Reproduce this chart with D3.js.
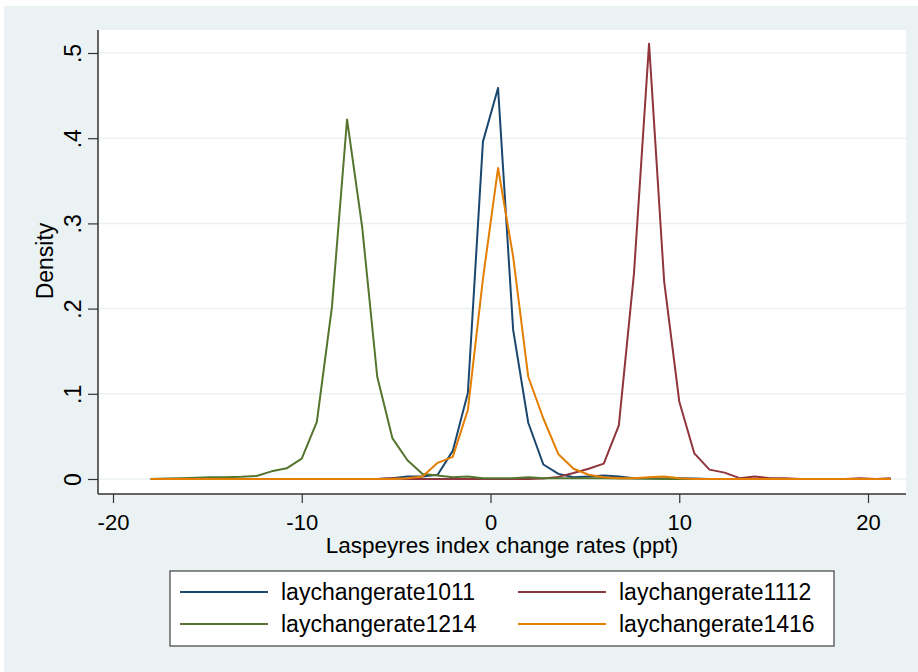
<!DOCTYPE html>
<meta http-equiv="content-type" content="text/html; charset=UTF8">
<html>
<head>
	<title>Laspeyres density</title>
	<script type="text/javascript" src="https://cdn.jsdelivr.net/npm/d3@7/dist/d3.min.js"></script>
	<style type="text/css">
		body, html {
			padding: 0;
			margin: 0;
			background: #ffffff;
		}
		svg text {
			font-family: "Liberation Sans", Arial, sans-serif;
			font-size: 23px;
			fill: #000;
		}
	</style>
</head>
<body>
<svg id="Chart" width="918" height="672"></svg>

<script type="text/javascript">

	// evaluation points of the density curves (ppt)
	var xPoints = [
		-18.0, -17.2, -16.4, -15.6, -14.8, -14.0, -13.2, -12.4, -11.6, -10.8,
		-10.0, -9.2, -8.4, -7.6, -6.8, -6.0, -5.2, -4.4, -3.6, -2.8,
		-2.0, -1.2, -0.4, 0.4, 1.2, 2.0, 2.8, 3.6, 4.4, 5.2,
		6.0, 6.8, 7.6, 8.4, 9.2, 10.0, 10.8, 11.6, 12.4, 13.2,
		14.0, 14.8, 15.6, 16.4, 17.2, 18.0, 18.8, 19.6, 20.4, 21.2
	];

	var seriesNames = ["laychangerate1011", "laychangerate1112", "laychangerate1214", "laychangerate1416"];

	var rate1011 = [
		0, 0, 0, 0, 0, 0, 0, 0, 0, 0,
		0, 0, 0, 0, 0, 0, 0.001, 0.003, 0.003, 0.005,
		0.033, 0.101, 0.396, 0.459, 0.175, 0.066, 0.017, 0.006, 0.002, 0.003,
		0.004, 0.003, 0.001, 0.0005, 0.0005, 0.001, 0.0005, 0, 0, 0,
		0, 0, 0, 0, 0, 0, 0, 0, 0, 0
	];

	var rate1112 = [
		0, 0, 0, 0, 0, 0, 0, 0, 0, 0,
		0, 0, 0, 0, 0, 0, 0.001, 0, 0, 0,
		0, 0, 0, 0, 0, 0, 0.0005, 0.0025, 0.007, 0.012,
		0.018, 0.063, 0.241, 0.511, 0.232, 0.091, 0.030, 0.011, 0.0075, 0.001,
		0.003, 0.001, 0.001, 0, 0, 0, 0, 0.001, 0, 0.001
	];

	var rate1214 = [
		0, 0.0005, 0.001, 0.0015, 0.002, 0.002, 0.0025, 0.0035, 0.009, 0.0125,
		0.024, 0.067, 0.202, 0.422, 0.296, 0.120, 0.048, 0.022, 0.006, 0.004,
		0.002, 0.003, 0.001, 0.001, 0.001, 0.002, 0.001, 0.001, 0.001, 0.001,
		0.001, 0.0005, 0.0005, 0.0005, 0, 0, 0, 0, 0, 0,
		0, 0, 0, 0, 0, 0, 0, 0, 0, 0
	];

	var rate1416 = [
		0, 0, 0, 0, 0, 0, 0, 0, 0, 0,
		0, 0, 0, 0, 0, 0, 0, 0.001, 0.003, 0.019,
		0.026, 0.081, 0.235, 0.365, 0.261, 0.120, 0.071, 0.029, 0.012, 0.005,
		0.002, 0.001, 0.001, 0.002, 0.003, 0.001, 0, 0, 0, 0,
		0, 0, 0, 0, 0, 0, 0, 0, 0, 0
	];

	var xTicks = [-20, -10, 0, 10, 20];
	var xTickLabels = ["-20", "-10", "0", "10", "20"];
	var yTicks = [0, 0.1, 0.2, 0.3, 0.4, 0.5];
	var yTickLabels = ["0", ".1", ".2", ".3", ".4", ".5"];

	// stata s2color palette
	var COLORS = ["#1a476f", "#90353b", "#55752f", "#e37e00"];

	var svg = d3.select("#Chart");

	var plotL = 98, plotR = 906, plotT = 30, plotB = 494;

	var x = d3.scaleLinear().domain([-20, 20]).range([113, 868]);
	var y = d3.scaleLinear().domain([0, 0.5]).range([479, 53]);

	// graph region background
	svg.append("rect")
		.attr("x", 4).attr("y", 6)
		.attr("width", 914).attr("height", 666)
		.attr("fill", "#eaf2f3");

	// plot region
	svg.append("rect")
		.attr("x", plotL).attr("y", plotT)
		.attr("width", plotR - plotL).attr("height", plotB - plotT)
		.attr("fill", "#ffffff");

	// gridlines
	svg.append("g").selectAll("line")
		.data(yTicks)
	  .enter().append("line")
		.attr("x1", plotL).attr("x2", plotR)
		.attr("y1", function(d) { return y(d); })
		.attr("y2", function(d) { return y(d); })
		.attr("stroke", "#eaf2f3")
		.attr("stroke-width", 1.5);

	// curves
	var line = d3.line()
		.x(function(d, i) { return x(xPoints[i]); })
		.y(function(d) { return y(d); });

	var allSeries = [rate1011, rate1112, rate1214, rate1416];

	svg.append("g").selectAll("path")
		.data(allSeries)
	  .enter().append("path")
		.attr("d", line)
		.attr("fill", "none")
		.attr("stroke", function(d, i) { return COLORS[i]; })
		.attr("stroke-width", 2)
		.attr("stroke-linejoin", "round");

	// y axis
	var yAxis = svg.append("g")
		.attr("transform", "translate(" + plotL + ",0)")
		.call(d3.axisLeft(y).tickValues(yTicks).tickSize(10)
			.tickFormat(function(d, i) { return yTickLabels[i]; }));
	yAxis.select(".domain").remove();
	yAxis.selectAll(".tick line").attr("stroke", "#333").attr("stroke-width", 1.2);
	yAxis.selectAll(".tick text")
		.attr("x", null).attr("dy", null)
		.attr("transform", "translate(-17,0) rotate(-90)")
		.attr("text-anchor", "middle")
		.style("font-size", "23px")
		.style("font-family", "'Liberation Sans', Arial, sans-serif");

	// x axis
	var xAxis = svg.append("g")
		.attr("transform", "translate(0," + plotB + ")")
		.call(d3.axisBottom(x).tickValues(xTicks).tickSize(9)
			.tickFormat(function(d, i) { return xTickLabels[i]; }));
	xAxis.select(".domain").remove();
	xAxis.selectAll(".tick line").attr("stroke", "#333").attr("stroke-width", 1.2);
	xAxis.selectAll(".tick text")
		.attr("y", 36).attr("dy", null)
		.style("font-size", "22px")
		.style("font-family", "'Liberation Sans', Arial, sans-serif");

	// axis lines
	svg.append("line")
		.attr("x1", plotL).attr("x2", plotL)
		.attr("y1", plotT).attr("y2", plotB)
		.attr("stroke", "#333").attr("stroke-width", 1.5);
	svg.append("line")
		.attr("x1", plotL).attr("x2", plotR)
		.attr("y1", plotB).attr("y2", plotB)
		.attr("stroke", "#333").attr("stroke-width", 1.5);

	// axis titles
	svg.append("text")
		.attr("transform", "translate(53,261) rotate(-90)")
		.attr("text-anchor", "middle")
		.text("Density");

	svg.append("text")
		.attr("x", (plotL + plotR) / 2)
		.attr("y", 553)
		.attr("text-anchor", "middle")
		.style("font-size", "22.5px")
		.text("Laspeyres index change rates (ppt)");

	// legend
	var legend = svg.append("g");
	legend.append("rect")
		.attr("x", 170).attr("y", 571)
		.attr("width", 664).attr("height", 75)
		.attr("fill", "#ffffff")
		.attr("stroke", "#404040")
		.attr("stroke-width", 1.2);

	var item = legend.selectAll("g")
		.data(seriesNames)
	  .enter().append("g")
		.attr("transform", function(d, i) {
			return "translate(" + (i % 2 === 0 ? 180 : 518) + "," + (i < 2 ? 592 : 624) + ")";
		});

	item.append("line")
		.attr("x1", 0).attr("x2", 88)
		.attr("y1", 0).attr("y2", 0)
		.attr("stroke", function(d, i) { return COLORS[i]; })
		.attr("stroke-width", 2);

	item.append("text")
		.attr("x", 101)
		.attr("y", 8)
		.text(function(d) { return d; });

</script>
</body>
</html>
